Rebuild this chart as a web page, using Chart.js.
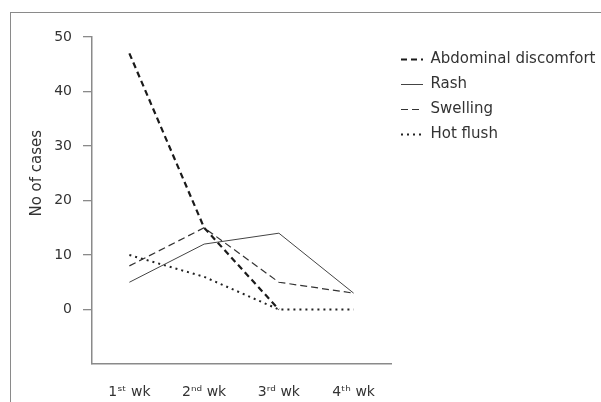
<!DOCTYPE html>
<html>
<head>
<meta charset="utf-8">
<script src="https://cdn.jsdelivr.net/npm/chart.js@4"></script>
<style>
  body { margin: 0; background: #fff; }
  #wrap { position: relative; width: 601px; height: 402px; }
  #frame {
    position: absolute; left: 10px; top: 12px; width: 591px; height: 390px;
    border-top: 1.5px solid #8a8a8a; border-left: 1.5px solid #8a8a8a;
    box-sizing: border-box; pointer-events: none;
  }
</style>
</head>
<body>
<div id="wrap">
  <canvas id="chart" width="601" height="402"></canvas>
  <div id="frame"></div>
</div>
<script>
// Values
const weeks = ['1\u02E2\u1D57 wk', '2\u207F\u1D48 wk', '3\u02B3\u1D48 wk', '4\u1D57\u02B0 wk'];
const abdominal = [47, 15, 0, null];
const rash = [5, 12, 14, 3];
const swelling = [8, 15, 5, 3];
const hotFlush = [10, 6, 0, 0];
const yTicks = [0, 10, 20, 30, 40, 50];

const font = 'DejaVu Sans, sans-serif';
const ink = '#333';
const axisGrey = '#8a8a8a';

// y axis title, centred on the labelled part of the axis
const yTitle = {
    id: 'yTitle',
    afterDraw(chart) {
        const y = chart.scales.y;
        const mid = (y.getPixelForValue(yTicks[0]) + y.getPixelForValue(yTicks[yTicks.length - 1])) / 2;
        const ctx = chart.ctx;
        ctx.save();
        ctx.translate(37, mid);
        ctx.rotate(-Math.PI / 2);
        ctx.font = '15px ' + font;
        ctx.fillStyle = ink;
        ctx.textAlign = 'center';
        ctx.textBaseline = 'middle';
        ctx.fillText('No of cases', 0, 0);
        ctx.restore();
    }
};

new Chart(document.getElementById('chart').getContext('2d'), {
    type: 'line',
    data: {
        labels: weeks,
        datasets: [
            { label: 'Abdominal discomfort', data: abdominal, borderColor: '#1a1a1a', borderWidth: 2.2, borderDash: [6, 4] },
            { label: 'Rash', data: rash, borderColor: '#444', borderWidth: 1 },
            { label: 'Swelling', data: swelling, borderColor: '#333', borderWidth: 1.2, borderDash: [7, 4] },
            { label: 'Hot flush', data: hotFlush, borderColor: '#222', borderWidth: 2, borderDash: [2, 4] }
        ]
    },
    options: {
        responsive: false,
        animation: false,
        spanGaps: false,
        elements: {
            point: { radius: 0, hoverRadius: 0 },
            line: { tension: 0, fill: false, backgroundColor: 'transparent' }
        },
        layout: { padding: { top: 37, left: 0, right: 0, bottom: 0 } },
        plugins: {
            tooltip: { enabled: false },
            legend: {
                position: 'right',
                align: 'start',
                maxWidth: 210,
                title: { display: true, text: '', padding: 0, font: { size: 5, lineHeight: 1 } },
                labels: {
                    usePointStyle: true,
                    pointStyle: 'line',
                    pointStyleWidth: 22,
                    padding: 10,
                    color: ink,
                    font: { family: font, size: 15 },
                    // take line width and dash from the dataset, not the point
                    generateLabels(chart) {
                        return chart.data.datasets.map((ds, i) => ({
                            text: ds.label,
                            datasetIndex: i,
                            hidden: !chart.isDatasetVisible(i),
                            fillStyle: 'transparent',
                            strokeStyle: ds.borderColor,
                            fontColor: ink,
                            lineWidth: ds.borderWidth,
                            lineDash: ds.borderDash || [],
                            lineCap: 'butt',
                            pointStyle: 'line'
                        }));
                    }
                }
            }
        },
        scales: {
            x: {
                offset: true,
                grid: { display: false },
                border: { display: true, color: axisGrey, width: 1.5 },
                ticks: { color: ink, padding: 12, font: { family: font, size: 14 }, maxRotation: 0 },
                afterFit(s) { s.height = 38; }
            },
            y: {
                min: -10,
                max: 50,
                grid: {
                    drawOnChartArea: false,
                    drawTicks: true,
                    tickLength: 9,
                    lineWidth: 1.3,
                    color: c => (yTicks.includes(c.tick.value) ? axisGrey : 'transparent')
                },
                border: { display: true, color: axisGrey, width: 1.5 },
                ticks: {
                    stepSize: 10,
                    padding: 11,
                    color: ink,
                    font: { family: font, size: 14 },
                    callback: v => (yTicks.includes(v) ? v : '')
                },
                afterFit(s) { s.width = 92; }
            }
        }
    },
    plugins: [yTitle]
});
</script>
</body>
</html>
